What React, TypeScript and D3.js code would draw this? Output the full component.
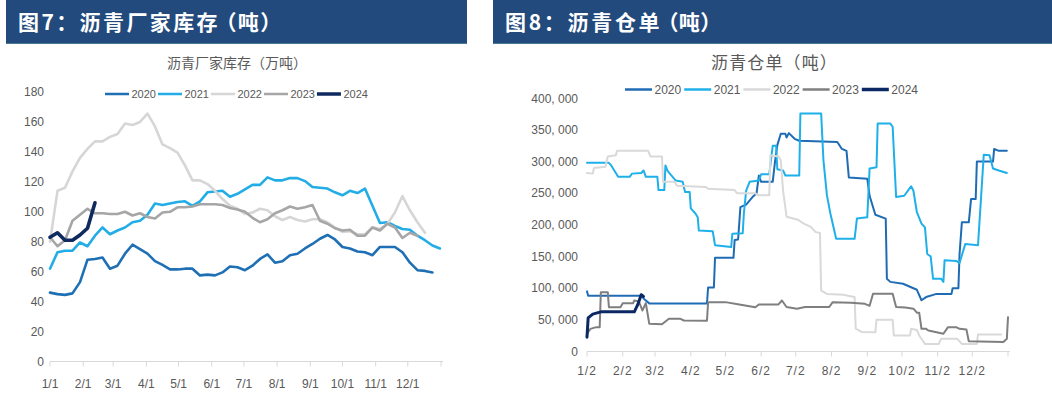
import React from "react";
import * as d3 from "d3";

// ---- 沥青厂家库存（万吨）: weekly readings, week i = day 1 + 7i ----
const years = ["2020", "2021", "2022", "2023", "2024"];
const stock2020 = [46, 45, 44.5, 45.5, 53, 68, 68.5, 69.5, 62, 64, 72, 78, 75, 72, 67, 64.5, 61.5, 61.5, 62, 62, 57.5, 58, 57.5, 59.5, 63.5, 63, 61, 64, 68.5, 71.5, 66, 67, 71, 72, 75.5, 78.5, 82, 84.5, 81.5, 76.5, 75.5, 73.5, 73, 71, 76.5, 76.5, 76.5, 73, 66, 61, 60.5, 59.5];
const stock2021 = [62, 73, 74, 74, 79.5, 77, 84, 89.5, 85, 87.5, 89.5, 93, 94, 98, 105.5, 104.5, 105.5, 106.5, 107, 104, 107, 113, 113.5, 114, 110, 112, 115, 118, 118, 123, 121, 121, 122.5, 122.5, 120.5, 116.5, 116, 115.5, 113, 111, 114, 112.5, 115.5, 104, 92.5, 93, 90.5, 88.5, 88, 84, 81, 77.5, 75.5];
const stock2022 = [80, 114, 116, 127, 136, 142, 147, 147, 150, 152, 159, 158, 160, 165.5, 157, 145, 142.5, 139.5, 131, 121, 121, 118.5, 114, 108.5, 104, 102, 98.5, 99.5, 102, 101, 97, 94.5, 96.5, 94.5, 93.5, 95, 95, 93, 89.5, 86.5, 87, 85, 85, 89.5, 88.5, 92, 99.5, 110.5, 101, 93, 86];
const stock2023 = [83, 77, 81, 94, 98, 102, 99, 99, 98.5, 98.5, 100, 97.5, 99, 96.5, 95.5, 99.5, 100, 103, 103, 103.5, 105, 105, 105, 104.5, 102.5, 101.5, 100, 96, 93, 95, 99, 101, 103.5, 102, 103, 104.5, 94, 92, 89, 87.5, 88, 84, 84, 89.5, 87.5, 92, 89.5, 82.5, 86, 84];
const stock2024 = [83, 86, 81, 81, 84.5, 89, 106];
const stockTickDays = [1, 32, 60, 91, 121, 152, 182, 213, 244, 274, 305, 335, 366];
const stockTickLabels = ["1/1", "2/1", "3/1", "4/1", "5/1", "6/1", "7/1", "8/1", "9/1", "10/1", "11/1", "12/1"];
const stockYTicks = [0, 20, 40, 60, 80, 100, 120, 140, 160, 180];

// ---- 沥青仓单（吨）: [day of year, tonnes] ----
const receipt2020 = [[2, 95000], [3, 88000], [49, 88000], [52, 82000], [56, 76000], [106, 76000], [107, 101000], [112, 101000], [113, 148000], [129, 148000], [130, 176000], [133, 177000], [135, 228000], [140, 232000], [146, 245000], [149, 250000], [151, 278000], [153, 268000], [163, 268000], [165, 300000], [167, 326000], [170, 344000], [174, 344000], [175, 338000], [177, 345000], [182, 336000], [186, 333000], [219, 331000], [223, 320000], [227, 317000], [229, 275000], [245, 273000], [247, 246000], [252, 216000], [261, 210000], [262, 115000], [265, 110000], [276, 107000], [288, 97500], [292, 81000], [296, 86000], [305, 91000], [318, 91000], [319, 100000], [324, 100000], [325, 154000], [327, 204000], [333, 204000], [335, 241000], [339, 241000], [340, 300000], [354, 300000], [355, 320000], [359, 317000], [366, 317000]];
const receipt2021 = [[2, 298000], [21, 298000], [23, 294000], [29, 276000], [39, 276000], [41, 281000], [49, 282000], [51, 286000], [53, 276000], [63, 276000], [64, 255000], [69, 255000], [70, 294000], [72, 285000], [79, 270000], [85, 268000], [87, 252000], [91, 252000], [92, 226000], [96, 218000], [98, 212000], [99, 191000], [111, 190000], [113, 168000], [127, 165000], [128, 186000], [137, 187000], [138, 218000], [140, 254000], [143, 268000], [151, 270000], [153, 280000], [160, 280000], [162, 310000], [163, 325000], [166, 325000], [167, 288000], [172, 286000], [174, 278000], [186, 278000], [187, 376000], [205, 376000], [207, 302000], [210, 247000], [213, 218000], [218, 178000], [234, 178000], [236, 210000], [245, 212000], [247, 289000], [253, 291000], [254, 360000], [265, 360000], [267, 355000], [270, 244000], [277, 246000], [283, 261000], [285, 254000], [288, 220000], [292, 202000], [295, 196000], [297, 154000], [300, 150000], [302, 115000], [309, 115000], [311, 110000], [312, 144000], [322, 143000], [325, 140000], [330, 170000], [341, 168000], [346, 311000], [351, 310000], [354, 289000], [359, 286000], [366, 282000]];
const receipt2022 = [[2, 282000], [7, 281000], [8, 290000], [18, 292000], [20, 308000], [27, 310000], [28, 317000], [55, 317000], [57, 308000], [67, 308000], [68, 268000], [78, 268000], [80, 262000], [105, 260000], [107, 257000], [130, 255000], [132, 250000], [148, 250000], [150, 247000], [160, 247000], [161, 310000], [168, 308000], [170, 302000], [172, 254000], [175, 213000], [185, 208000], [190, 202000], [196, 197000], [200, 189000], [204, 187000], [205, 96000], [210, 91000], [225, 89500], [228, 88000], [234, 86000], [235, 36000], [240, 31000], [252, 30600], [253, 50000], [267, 50000], [268, 25300], [282, 25300], [283, 36000], [288, 34000], [290, 25300], [295, 12000], [307, 12000], [309, 20000], [323, 20000], [327, 12000], [340, 12000], [341, 27000], [361, 27000]];
const receipt2023 = [[2, 28000], [5, 35800], [10, 38500], [13, 38500], [14, 93800], [20, 93800], [21, 70000], [31, 70000], [33, 76400], [42, 76400], [43, 80600], [47, 79000], [50, 64800], [53, 76400], [56, 43700], [67, 43000], [73, 51600], [83, 51600], [86, 49000], [106, 48500], [107, 78000], [122, 78000], [134, 74300], [148, 70000], [151, 74300], [168, 74300], [171, 80600], [175, 70300], [184, 67700], [191, 70300], [212, 70300], [215, 77900], [231, 77000], [243, 75300], [247, 72200], [250, 91200], [267, 91200], [270, 70300], [278, 69500], [285, 67700], [288, 61300], [290, 61300], [292, 35800], [296, 35800], [298, 33200], [311, 28000], [315, 38500], [322, 38500], [325, 35800], [331, 34600], [333, 16300], [363, 15000], [366, 20000], [367, 54300]];
const receipt2024 = [[2, 22700], [3, 53000], [7, 59000], [14, 62600], [43, 62600], [46, 74000], [49, 89600], [51, 87000]];
const receiptTickDays = [2, 33, 61, 92, 122, 153, 183, 214, 245, 275, 306, 336, 367];
const receiptTickLabels = ["1/2", "2/2", "3/2", "4/2", "5/2", "6/2", "7/2", "8/2", "9/2", "10/2", "11/2", "12/2"];
const receiptYTicks = [0, 50000, 100000, 150000, 200000, 250000, 300000, 350000, 400000];

const stockColors = ["#1f6fb4", "#22ade6", "#d6d6d6", "#a6a6a6", "#0f2a5e"];
const receiptColors = ["#1f6cb5", "#1fb0ea", "#d9d9d9", "#7f7f7f", "#0b2865"];

const CJK = "'Noto Sans CJK SC', sans-serif";
const LATIN = "'Liberation Sans', Arial, sans-serif";
const GREY = "#595959";
const AXIS = "#d9d9d9";

// spread a text (or tspan) so it spans roughly `width` px
const fit = (sel, width) => {
  const n = sel.text().length;
  const natural = sel.node().getComputedTextLength();
  sel.attr("letter-spacing", (width - natural) / n);
};

const App = () => {
  const svgRef = React.useRef(null);

  React.useEffect(() => {
    const svg = d3.select(svgRef.current);
    svg.selectAll("*").remove();

    // title bars; the bracket part is set with proportional punctuation
    const bar = (x, w, head, headW, tail, tailX, tailW) => {
      svg.append("rect").attr("x", x).attr("y", 0).attr("width", w).attr("height", 43).attr("fill", "#234a7c");
      svg.append("line").attr("x1", x).attr("x2", x + w).attr("y1", 43.5).attr("y2", 43.5)
        .attr("stroke", "#4a7894").attr("stroke-width", 1);
      const t = svg.append("text").attr("x", x + 12).attr("y", 30)
        .attr("fill", "#fff").attr("font-family", CJK).attr("font-weight", 700).attr("font-size", 21);
      fit(t.append("tspan").text(head), headW);
      fit(t.append("tspan").attr("x", tailX).style("font-feature-settings", "'palt'").text(tail), tailW);
    };
    bar(6, 461, "图7：沥青厂家库存", 202, "（吨）", 225, 49);
    bar(493, 559, "图8：沥青仓单 ", 160, "（吨）", 667, 46);

    // one chart panel
    const panel = (opt) => {
      const g = svg.append("g");
      const x = d3.scaleLinear().domain(opt.xDomain).range(opt.xRange);
      const y = d3.scaleLinear().domain(opt.yDomain).range(opt.yRange);
      const y0 = opt.yRange[0];

      const title = g.append("text").attr("x", opt.titleX).attr("y", opt.titleY)
        .attr("font-family", CJK).attr("font-size", opt.titleSize).attr("fill", GREY).text(opt.title);
      fit(title, opt.titleW);

      // legend
      let lx = opt.legendX;
      years.forEach((yr, i) => {
        g.append("line").attr("x1", lx).attr("x2", lx + opt.legendLen)
          .attr("y1", opt.legendY).attr("y2", opt.legendY)
          .attr("stroke", opt.colors[i]).attr("stroke-width", i === 4 ? 3.5 : 2.5);
        const t = g.append("text").attr("x", lx + opt.legendLen + 2.5).attr("y", opt.legendY + 4)
          .attr("font-family", LATIN).attr("font-size", opt.legendSize).attr("fill", GREY).text(yr);
        lx += opt.legendLen + 2.5 + t.node().getComputedTextLength() + opt.legendGap;
      });

      // y labels
      opt.yTicks.forEach((v) => {
        g.append("text").attr("x", opt.yLabelX).attr("y", y(v) + 4.2).attr("text-anchor", "end")
          .attr("font-family", LATIN).attr("font-size", opt.labelSize).attr("fill", GREY).text(opt.yFormat(v));
      });

      // x axis
      g.append("line").attr("x1", opt.xRange[0]).attr("x2", opt.xRange[1] + 2)
        .attr("y1", y0).attr("y2", y0).attr("stroke", AXIS).attr("stroke-width", 1);
      opt.tickDays.forEach((d, i) => {
        g.append("line").attr("x1", x(d)).attr("x2", x(d)).attr("y1", y0).attr("y2", y0 + 5)
          .attr("stroke", AXIS).attr("stroke-width", 1);
        if (opt.tickLabels[i]) {
          g.append("text").attr("x", x(d)).attr("y", opt.xLabelY).attr("text-anchor", "middle")
            .attr("font-family", LATIN).attr("font-size", opt.labelSize).attr("letter-spacing", opt.xLabelSpacing)
            .attr("fill", GREY).text(opt.tickLabels[i]);
        }
      });

      const line = d3.line().x((d) => x(d[0])).y((d) => y(d[1]));
      opt.series.forEach((s, i) => {
        g.append("path").attr("d", line(s)).attr("fill", "none")
          .attr("stroke", opt.colors[i]).attr("stroke-width", i === 4 ? opt.width + 1 : opt.width)
          .attr("stroke-linejoin", "round").attr("stroke-linecap", "round");
      });
    };

    const weekly = (arr) => arr.map((v, i) => [1 + 7 * i, v]);

    panel({
      xDomain: [1, 366], xRange: [50, 441],
      yDomain: [0, 180], yRange: [361.5, 92],
      title: "沥青厂家库存（万吨）", titleX: 167, titleY: 68, titleSize: 14, titleW: 140,
      legendX: 105, legendY: 94, legendLen: 24, legendGap: 2, legendSize: 11,
      colors: stockColors,
      yTicks: stockYTicks, yLabelX: 44, yFormat: (v) => String(v), labelSize: 12,
      tickDays: stockTickDays, tickLabels: stockTickLabels, xLabelY: 388, xLabelSpacing: 0,
      series: [stock2020, stock2021, stock2022, stock2023, stock2024].map(weekly),
      width: 2.6,
    });

    panel({
      xDomain: [2, 367], xRange: [587, 1008],
      yDomain: [0, 400000], yRange: [351.5, 98.3],
      title: "沥青仓单（吨）", titleX: 711, titleY: 69, titleSize: 17, titleW: 127,
      legendX: 625, legendY: 89.5, legendLen: 27, legendGap: 3, legendSize: 12,
      colors: receiptColors,
      yTicks: receiptYTicks, yLabelX: 578, yFormat: (v) => d3.format(",")(v).replace(/,/g, ", "), labelSize: 12,
      tickDays: receiptTickDays, tickLabels: receiptTickLabels, xLabelY: 375, xLabelSpacing: 1,
      series: [receipt2020, receipt2021, receipt2022, receipt2023, receipt2024],
      width: 2,
    });
  }, []);

  return (
    <svg
      ref={svgRef}
      width={1052}
      height={395}
      style={{ position: "absolute", left: 0, top: 0, background: "#fff" }}
    />
  );
};

export default App;
